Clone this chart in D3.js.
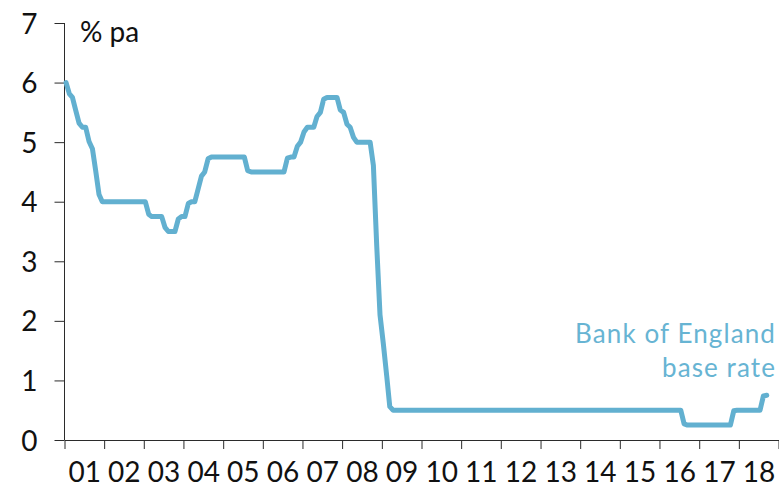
<!DOCTYPE html>
<html>
<head>
<meta charset="utf-8">
<script src="https://cdn.jsdelivr.net/npm/d3@7"></script>
<style>
  html, body { margin: 0; padding: 0; background: #fff; }
  svg { display: block; font-family: Lato, "DejaVu Sans", sans-serif; }
</style>
</head>
<body>
<svg id="chart" width="779" height="489"></svg>
<script>
// ---- data: Bank of England base rate, monthly averages, % pa ----
const startYear = 2001;
const baseRate = [
  // 2001
  6.00, 5.81, 5.75, 5.53, 5.32, 5.25, 5.25, 5.01, 4.89, 4.52, 4.12, 4.00,
  // 2002
  4.00, 4.00, 4.00, 4.00, 4.00, 4.00, 4.00, 4.00, 4.00, 4.00, 4.00, 4.00,
  // 2003
  4.00, 3.79, 3.75, 3.75, 3.75, 3.75, 3.57, 3.50, 3.50, 3.50, 3.71, 3.75,
  // 2004
  3.75, 3.97, 4.00, 4.00, 4.21, 4.43, 4.50, 4.72, 4.75, 4.75, 4.75, 4.75,
  // 2005
  4.75, 4.75, 4.75, 4.75, 4.75, 4.75, 4.75, 4.52, 4.50, 4.50, 4.50, 4.50,
  // 2006
  4.50, 4.50, 4.50, 4.50, 4.50, 4.50, 4.50, 4.73, 4.75, 4.75, 4.93, 5.00,
  // 2007
  5.17, 5.25, 5.25, 5.25, 5.43, 5.50, 5.72, 5.75, 5.75, 5.75, 5.75, 5.54,
  // 2008
  5.50, 5.30, 5.25, 5.08, 5.00, 5.00, 5.00, 5.00, 5.00, 4.61, 3.25, 2.10,
  // 2009
  1.61, 1.07, 0.56, 0.50, 0.50, 0.50, 0.50, 0.50, 0.50, 0.50, 0.50, 0.50,
  // 2010
  0.50, 0.50, 0.50, 0.50, 0.50, 0.50, 0.50, 0.50, 0.50, 0.50, 0.50, 0.50,
  // 2011
  0.50, 0.50, 0.50, 0.50, 0.50, 0.50, 0.50, 0.50, 0.50, 0.50, 0.50, 0.50,
  // 2012
  0.50, 0.50, 0.50, 0.50, 0.50, 0.50, 0.50, 0.50, 0.50, 0.50, 0.50, 0.50,
  // 2013
  0.50, 0.50, 0.50, 0.50, 0.50, 0.50, 0.50, 0.50, 0.50, 0.50, 0.50, 0.50,
  // 2014
  0.50, 0.50, 0.50, 0.50, 0.50, 0.50, 0.50, 0.50, 0.50, 0.50, 0.50, 0.50,
  // 2015
  0.50, 0.50, 0.50, 0.50, 0.50, 0.50, 0.50, 0.50, 0.50, 0.50, 0.50, 0.50,
  // 2016
  0.50, 0.50, 0.50, 0.50, 0.50, 0.50, 0.50, 0.27, 0.25, 0.25, 0.25, 0.25,
  // 2017
  0.25, 0.25, 0.25, 0.25, 0.25, 0.25, 0.25, 0.25, 0.25, 0.25, 0.49, 0.50,
  // 2018
  0.50, 0.50, 0.50, 0.50, 0.50, 0.50, 0.50, 0.74, 0.75
];
const yearLabels = ["01","02","03","04","05","06","07","08","09","10","11","12","13","14","15","16","17","18"];
const yTicks = [0, 1, 2, 3, 4, 5, 6, 7];
const unitLabel = "% pa";
const seriesLabel = ["Bank of England", "base rate"];

// ---- layout ----
const svg = d3.select("#chart");
const mLeft = 64.5, mRight = 778.5, mTop = 23, mBottom = 440;
const lineColor = "#62b0d0";
const axisColor = "#2b2b2b";

const x = d3.scaleTime()
  .domain([new Date(startYear, 0, 1), new Date(startYear + yearLabels.length, 0, 1)])
  .range([mLeft, mRight]);
const y = d3.scaleLinear().domain([0, 7]).range([mBottom, mTop]);

const data = baseRate.map((v, i) => ({ date: new Date(startYear, i, 15), value: v }));

// y axis
const yAxis = svg.append("g")
  .attr("transform", `translate(${mLeft},0)`)
  .call(d3.axisLeft(y).tickValues(yTicks).tickFormat(d3.format("d")).tickSize(10).tickPadding(17).tickSizeOuter(0));
yAxis.select(".domain").attr("stroke", axisColor).attr("d", `M0,${mTop}V${mBottom}`);
yAxis.selectAll(".tick line").attr("stroke", axisColor);
yAxis.selectAll(".tick text")
  .attr("fill", "#111").attr("font-size", 28).attr("dy", "0.36em")
  .attr("font-family", "Lato, sans-serif");

// x axis: year boundaries as ticks
const xAxis = svg.append("g")
  .attr("transform", `translate(0,${mBottom})`)
  .call(d3.axisBottom(x).ticks(d3.timeYear.every(1)).tickFormat("").tickSize(9).tickSizeOuter(0));
xAxis.select(".domain").attr("stroke", axisColor);
xAxis.selectAll(".tick line").attr("stroke", axisColor);

// x labels centred in each year
const labelDates = yearLabels.map((_, i) => new Date(startYear + i, 6, 1));
const xLab = svg.append("g")
  .attr("transform", `translate(0,${mBottom})`)
  .call(d3.axisBottom(x).tickValues(labelDates)
    .tickFormat((d, i) => yearLabels[i]).tickSize(0).tickPadding(22));
xLab.select(".domain").remove();
xLab.selectAll(".tick text")
  .attr("fill", "#111").attr("font-size", 28).attr("font-family", "Lato, sans-serif");

// unit label
svg.append("text")
  .attr("x", 80).attr("y", 42)
  .attr("font-size", 28).attr("fill", "#111")
  .text(unitLabel);

// line
svg.append("path")
  .datum(data)
  .attr("fill", "none")
  .attr("stroke", lineColor)
  .attr("stroke-width", 5)
  .attr("stroke-linejoin", "round")
  .attr("stroke-linecap", "round")
  .attr("d", d3.line().x(d => x(d.date)).y(d => y(d.value)));

// series label
const lab = svg.append("text")
  .attr("text-anchor", "end")
  .attr("font-size", 26)
  .attr("letter-spacing", "1.1px")
  .attr("fill", "#67b4d3");
seriesLabel.forEach((t, i) => {
  lab.append("tspan").attr("x", 776).attr("y", 343 + i * 33.5).text(t);
});
</script>
</body>
</html>
